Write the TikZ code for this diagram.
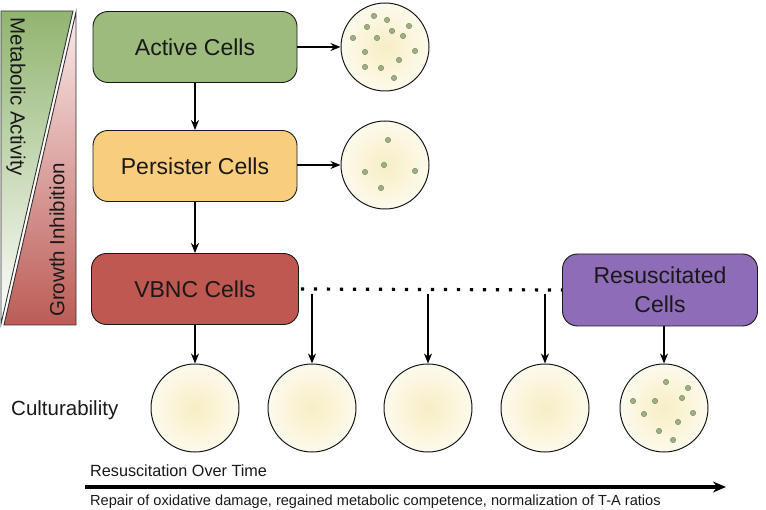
\documentclass[tikz,border=0pt]{standalone}
\usepackage{fontspec}
\setmainfont{Liberation Sans}
\usetikzlibrary{arrows.meta,shadings}
\definecolor{actg}{RGB}{157,187,125}
\definecolor{pers}{RGB}{249,205,126}
\definecolor{vbnc}{RGB}{190,88,80}
\definecolor{resc}{RGB}{143,108,183}
\definecolor{platein}{RGB}{247,238,196}
\definecolor{plateout}{RGB}{253,250,236}
\definecolor{dotc}{RGB}{158,176,130}
\definecolor{dotd}{RGB}{110,125,90}
\definecolor{barg}{RGB}{145,180,112}
\definecolor{bargm}{RGB}{175,203,150}
\definecolor{barr}{RGB}{188,92,86}
\definecolor{barrm}{RGB}{220,160,158}
\definecolor{barrt}{RGB}{250,235,235}
\definecolor{txt}{RGB}{25,25,25}
\begin{document}
\begin{tikzpicture}[x=1pt,y=-1pt,
  cellbox/.style={draw=black!90, line width=0.9pt, rounded corners=15pt,
    minimum width=204pt, minimum height=71pt, inner sep=0pt, text=txt,
    font=\fontsize{23}{29}\selectfont, align=center},
  plate/.style={circle, draw=black!90, line width=1pt, minimum size=88pt,
    inner sep=0pt, inner color=platein, outer color=plateout},
  arr/.style={-{Stealth[length=10pt,width=8pt]}, line width=2.4pt},
  colony/.style={fill=dotc, draw=dotd, line width=0.4pt}
]
\useasboundingbox (0,0) rectangle (766,510);

% left bar
\shade[top color=barg, middle color=bargm, bottom color=white, draw=black!80, line width=0.9pt]
  (1,11) -- (73,11) -- (1,324) -- cycle;
\shade[top color=barrt, middle color=barrm, bottom color=barr, draw=black!80, line width=0.9pt]
  (76,12) -- (76,325) -- (4,325) -- cycle;
\node[rotate=-90, font=\fontsize{20.5}{24}\selectfont, text=txt] (meta) at (16,97) {Metabolic Activity};
\node[rotate=90, font=\fontsize{20.5}{24}\selectfont, text=txt] (grow) at (57,240) {Growth Inhibition};

% boxes
\node[cellbox, fill=actg] (act) at (195,47) {Active Cells};
\node[cellbox, fill=pers] (per) at (195,166) {Persister Cells};
\node[cellbox, fill=vbnc, minimum width=207pt] (vb) at (195,289) {VBNC Cells};
\node[cellbox, fill=resc, minimum width=195pt, minimum height=72pt] (res) at (660,290) {Resuscitated\\Cells};

% plates
\node[plate] (p1) at (385,47) {};
\node[plate] (p2) at (385,165) {};
\node[plate] (b1) at (195,408) {};
\node[plate] (b2) at (312,408) {};
\node[plate] (b3) at (428,408) {};
\node[plate] (b4) at (545,408) {};
\node[plate] (b5) at (664,408) {};

% colonies
\foreach \x/\y in {374/16,387/20,367/27,409/26,392/31,403/36,353/38,377/38,415/51,365/52,399/60,365/67,381/68,394/78}
  \draw[colony] (\x,\y) circle (2.7pt);
\foreach \x/\y in {388/140,384/165,365/172,415/171,381/188}
  \draw[colony] (\x,\y) circle (2.7pt);
\foreach \x/\y in {666/382,688/388,633/401,655/401,682/398,693/413,644/414,678/422,659/431,673/440}
  \draw[colony] (\x,\y) circle (2.7pt);

% arrows
\draw[arr] (act.east) -- (p1.west);
\draw[arr] (per.east |- p2.west) -- (p2.west);
\draw[arr] (act.south) -- (per.north);
\draw[arr] (per.south) -- (vb.north);
\draw[arr] (vb.south) -- (b1.north);
\draw[arr] (res.south -| b5.north) -- (b5.north);

% dotted line
\draw[line width=3.2pt, dash pattern=on 3.2pt off 9.8pt] (vb.east) ++(2pt,0) -- (res.west);
\coordinate (d2) at (312,294);
\coordinate (d3) at (428,294);
\coordinate (d4) at (545,294);
\draw[arr] (d2) -- (b2.north);
\draw[arr] (d3) -- (b3.north);
\draw[arr] (d4) -- (b4.north);

% labels
\node[anchor=base west, font=\fontsize{20.5}{24}\selectfont, text=txt, inner sep=0pt] (cult) at (11,416) {Culturability};
\node[anchor=base west, font=\fontsize{16.2}{19}\selectfont, text=txt, inner sep=0pt] (rot) at (90,477) {Resuscitation Over Time};
\node[anchor=base west, font=\fontsize{14.6}{18}\selectfont, text=txt, inner sep=0pt] (rep) at (90,505) {Repair of oxidative damage, regained metabolic competence, normalization of T-A ratios};

% time arrow
\coordinate (ts) at (85,487);
\coordinate (te) at (726,487);
\draw[line width=3.2pt, -{Stealth[length=13pt,width=11pt]}] (ts) -- (te);
\end{tikzpicture}
\end{document}
